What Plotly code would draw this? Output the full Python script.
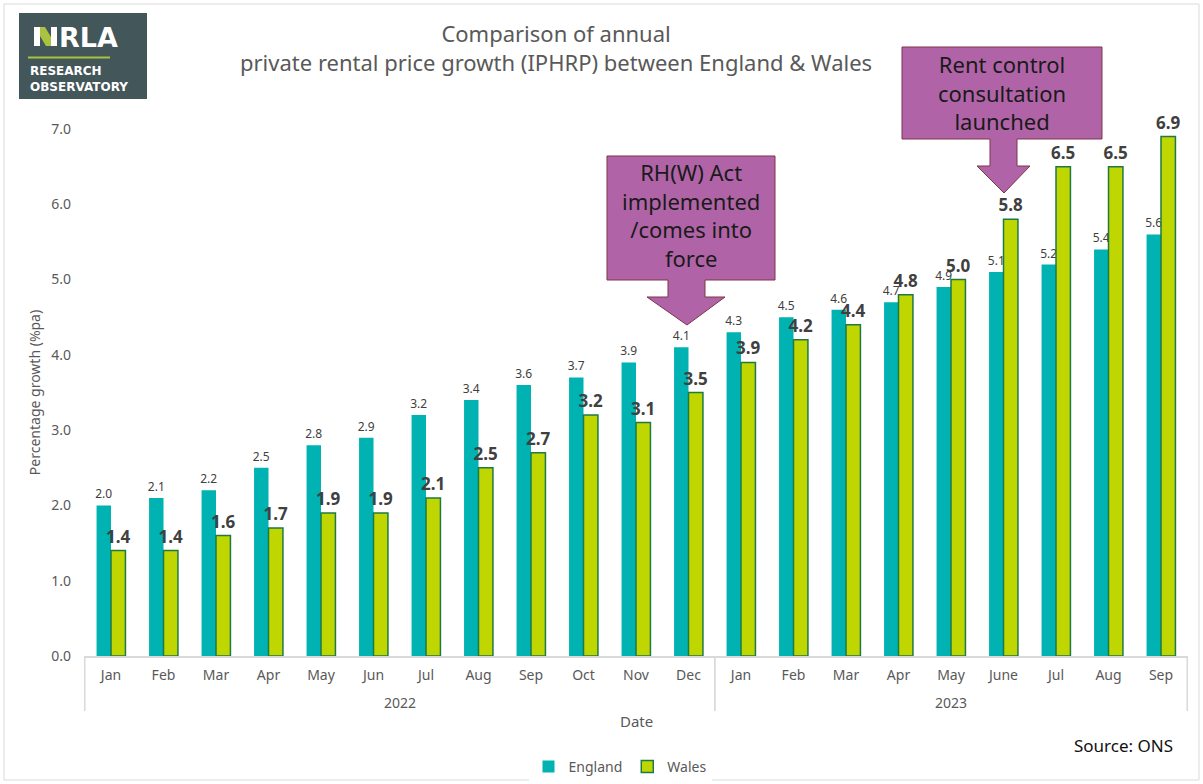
import plotly.graph_objects as go

# Annual private rental price growth (IPHRP), % per annum
years = ["2022"] * 12 + ["2023"] * 9
months = ["Jan", "Feb", "Mar", "Apr", "May", "Jun", "Jul", "Aug", "Sep", "Oct", "Nov", "Dec",
          "Jan", "Feb", "Mar", "Apr", "May", "June", "Jul", "Aug", "Sep"]
england = [2.0, 2.1, 2.2, 2.5, 2.8, 2.9, 3.2, 3.4, 3.6, 3.7, 3.9, 4.1,
           4.3, 4.5, 4.6, 4.7, 4.9, 5.1, 5.2, 5.4, 5.6]
wales = [1.4, 1.4, 1.6, 1.7, 1.9, 1.9, 2.1, 2.5, 2.7, 3.2, 3.1, 3.5,
         3.9, 4.2, 4.4, 4.8, 5.0, 5.8, 6.5, 6.5, 6.9]
y_ticks = [0, 1, 2, 3, 4, 5, 6, 7]

# one unique category per month, labelled by month name only
keys = [f"{m} {y}" for m, y in zip(months, years)]
year_names = list(dict.fromkeys(years))
year_spans = [(years.index(yr), len(years) - 1 - years[::-1].index(yr)) for yr in year_names]

W, H = 1203, 784
ML, MR, MT, MB = 84, 15, 129, 128
PW, PH = W - ML - MR, H - MT - MB

FONT = "Noto Sans"
GREY = "#595959"
TEAL = "#00B2B2"
LIME = "#BFD600"
LIME_EDGE = "#1E7A45"
PURPLE = "#B064A7"
PURPLE_EDGE = "#7E3548"
LOGO_BG = "#435659"
LOGO_GREEN = "#A9C23F"


def px(x):
    return (x - ML) / PW


def py(y):
    return (H - MB - y) / PH


fig = go.Figure()
fig.add_trace(go.Bar(
    x=keys, y=england, name="England",
    marker=dict(color=TEAL, line=dict(width=0)),
    text=[f"{v:.1f}" for v in england], textposition="outside",
    textfont=dict(family=FONT, size=12, color="#404040"),
    constraintext="none", cliponaxis=False,
))
fig.add_trace(go.Bar(
    x=keys, y=wales, name="Wales",
    marker=dict(color=LIME, line=dict(width=1.5, color=LIME_EDGE)),
    text=[f"<b>{v:.1f}</b>" for v in wales], textposition="outside",
    textfont=dict(family=FONT, size=17, color="#404040"),
    constraintext="none", cliponaxis=False,
))


def poly(pts, fill, line_color=None, line_width=0):
    d = "M " + " L ".join(f"{px(a):.5f},{py(b):.5f}" for a, b in pts) + " Z"
    return dict(type="path", xref="paper", yref="paper", path=d, fillcolor=fill,
                line=dict(color=line_color or fill, width=line_width), layer="above")


def callout(x0, y0, x1, y1, sx0, sx1, sy, hx0, hx1, tip_x, tip_y):
    pts = [(x0, y0), (x1, y0), (x1, y1), (sx1, y1), (sx1, sy), (hx1, sy),
           (tip_x, tip_y), (hx0, sy), (sx0, sy), (sx0, y1), (x0, y1)]
    return poly(pts, PURPLE, PURPLE_EDGE, 1)


shapes = [
    # chart frame
    dict(type="rect", xref="paper", yref="paper", x0=px(4), x1=px(1199), y0=py(4), y1=py(780),
         line=dict(color="#D9D9D9", width=1), fillcolor="rgba(0,0,0,0)", layer="below"),
    # logo block
    dict(type="rect", xref="paper", yref="paper", x0=px(19), x1=px(147), y0=py(13), y1=py(99),
         line=dict(width=0), fillcolor=LOGO_BG),
    poly([(34, 27), (40, 27), (40, 46), (34, 46)], "white"),
    poly([(51, 27), (57, 27), (57, 46), (51, 46)], "white"),
    poly([(40, 27), (45, 27), (51, 37), (51, 46), (46, 46), (40, 36)], LOGO_GREEN),
    dict(type="line", xref="paper", yref="paper", x0=px(28), x1=px(110), y0=py(57.5), y1=py(57.5),
         line=dict(color=LOGO_GREEN, width=2)),
    callout(607, 156, 775, 280, 668, 705, 297, 647, 725, 687, 325),
    callout(902, 47, 1102, 139, 990, 1017, 166, 977, 1030, 1004, 193),
]

# year group dividers below the category axis
for start, end in year_spans:
    for edge in (start - 0.5, end + 0.5):
        shapes.append(dict(type="line", xref="x", yref="paper", x0=edge, x1=edge,
                           y0=0, y1=py(711), line=dict(color="#D9D9D9", width=1.5)))

annotations = [
    dict(text="Comparison of annual<br>private rental price growth (IPHRP) between England &amp; Wales",
         x=px(556), y=py(47), xref="paper", yref="paper", showarrow=False,
         xanchor="center", yanchor="middle", font=dict(family=FONT, size=22, color=GREY), align="center"),
    dict(text="<b>RLA</b>", x=px(57), y=py(37), xref="paper", yref="paper", showarrow=False,
         xanchor="left", yanchor="middle", font=dict(family="DejaVu Sans", size=27, color="white")),
    dict(text="<b>RESEARCH<br>OBSERVATORY</b>", x=px(28), y=py(79), xref="paper", yref="paper",
         showarrow=False, xanchor="left", yanchor="middle", align="left",
         font=dict(family="DejaVu Sans", size=12, color="white")),
    dict(text="RH(W) Act<br>implemented<br>/comes into<br>force", x=px(691), y=py(215),
         xref="paper", yref="paper", showarrow=False, align="center",
         xanchor="center", yanchor="middle",
         font=dict(family=FONT, size=22, color="#1A1A1A")),
    dict(text="Rent control<br>consultation<br>launched", x=px(1002), y=py(93),
         xref="paper", yref="paper", showarrow=False, align="center",
         xanchor="center", yanchor="middle",
         font=dict(family=FONT, size=22, color="#1A1A1A")),
    dict(text="Date", x=px(636), y=py(721), xref="paper", yref="paper", showarrow=False,
         xanchor="center", yanchor="middle", font=dict(family=FONT, size=15, color=GREY)),
    dict(text="Source: ONS", x=px(1175), y=py(745), xref="paper", yref="paper", showarrow=False,
         xanchor="right", yanchor="middle", font=dict(family=FONT, size=17, color="#111111")),
]
for yr, (start, end) in zip(year_names, year_spans):
    annotations.append(dict(text=yr, x=(start + end) / 2, y=py(702), xref="x", yref="paper",
                            showarrow=False, xanchor="center", yanchor="middle",
                            font=dict(family=FONT, size=14, color=GREY)))

fig.update_layout(
    width=W, height=H,
    margin=dict(l=ML, r=MR, t=MT, b=MB, autoexpand=False),
    paper_bgcolor="white", plot_bgcolor="white",
    barmode="group", bargap=0.45, bargroupgap=0,
    font=dict(family=FONT, color=GREY),
    showlegend=True,
    legend=dict(orientation="h", x=px(620), y=py(767), xanchor="center", yanchor="middle",
                font=dict(family=FONT, size=14, color=GREY), itemwidth=30, traceorder="normal"),
    shapes=shapes, annotations=annotations,
)
fig.update_xaxes(
    type="category", categoryorder="array", categoryarray=keys,
    tickvals=keys, ticktext=months, showgrid=False, showline=True,
    linecolor="#D9D9D9", linewidth=1.5, ticks="", ticklabelstandoff=5,
    tickfont=dict(family=FONT, size=14, color=GREY),
)
fig.update_yaxes(
    range=[0, 7], tickvals=y_ticks, tickformat=".1f", showgrid=False, showline=False,
    zeroline=False, ticks="", ticklabelstandoff=12,
    tickfont=dict(family=FONT, size=14, color=GREY),
    title=dict(text="Percentage growth (%pa)", font=dict(family=FONT, size=14, color=GREY), standoff=7),
)

fig.write_html("out.html")
